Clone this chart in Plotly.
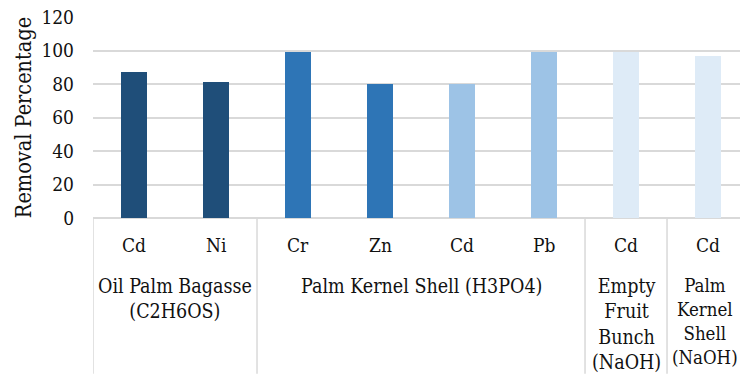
import plotly.graph_objects as go

metals = ["Cd", "Ni", "Cr", "Zn", "Cd", "Pb", "Cd", "Cd"]
removal = [87, 81, 99, 80, 80, 99, 99, 96.5]
groups = ["Oil Palm Bagasse<br>(C2H6OS)", "Palm Kernel Shell (H3PO4)",
          "Empty<br>Fruit<br>Bunch<br>(NaOH)", "Palm<br>Kernel<br>Shell<br>(NaOH)"]
group_sizes = [2, 4, 1, 1]
bar_colors = ["#1F4E79", "#1F4E79", "#2E75B6", "#2E75B6",
              "#9DC3E6", "#9DC3E6", "#DEEBF7", "#DEEBF7"]
y_ticks = [0, 20, 40, 60, 80, 100, 120]

FONT = "DejaVu Serif Condensed"
TXT = "#111111"
GRID = "#D9D9D9"

xs = list(range(len(metals)))

fig = go.Figure(go.Bar(
    x=xs, y=removal, width=0.31,
    marker=dict(color=bar_colors, line=dict(width=0)),
))

shapes = []
annotations = []
start = 0
bounds = [-0.5]
for gi, (g, n) in enumerate(zip(groups, group_sizes)):
    center = start + (n - 1) / 2
    last = gi == len(groups) - 1
    annotations.append(dict(
        x=center, y=-0.275, xref="x", yref="paper", text=g, showarrow=False,
        yanchor="top", xanchor="center", xshift=-3 if last else 0,
        font=dict(family=FONT, size=18.5 if last else 19.5, color=TXT),
    ))
    start += n
    bounds.append(start - 0.5)

for b in bounds:
    shapes.append(dict(type="line", xref="x", yref="paper", x0=b, x1=b,
                       y0=0, y1=-0.775, line=dict(color=GRID, width=1.5)))

for i, m in enumerate(metals):
    annotations.append(dict(
        x=i, y=-0.134, xref="x", yref="paper", text=m, showarrow=False,
        yanchor="middle", xanchor="center", font=dict(family=FONT, size=19, color=TXT),
    ))

fig.update_layout(
    width=740, height=379,
    margin=dict(l=93, r=0, t=17, b=161),
    paper_bgcolor="white", plot_bgcolor="white",
    showlegend=False,
    bargap=0,
    xaxis=dict(range=[-0.5, 7.39], showticklabels=False, showgrid=False,
               zeroline=False, showline=False, ticks=""),
    yaxis=dict(range=[0, 120], tickvals=y_ticks, showgrid=True, gridcolor=GRID,
               gridwidth=1.5, zeroline=True, zerolinecolor=GRID, zerolinewidth=1.5,
               showline=False, ticks="", ticklabelstandoff=18,
               tickfont=dict(family=FONT, size=19, color=TXT),
               title=dict(text="Removal Percentage", standoff=3,
                          font=dict(family=FONT, size=21.5, color=TXT))),
    shapes=shapes,
    annotations=annotations,
)

fig.write_html("out.html")
